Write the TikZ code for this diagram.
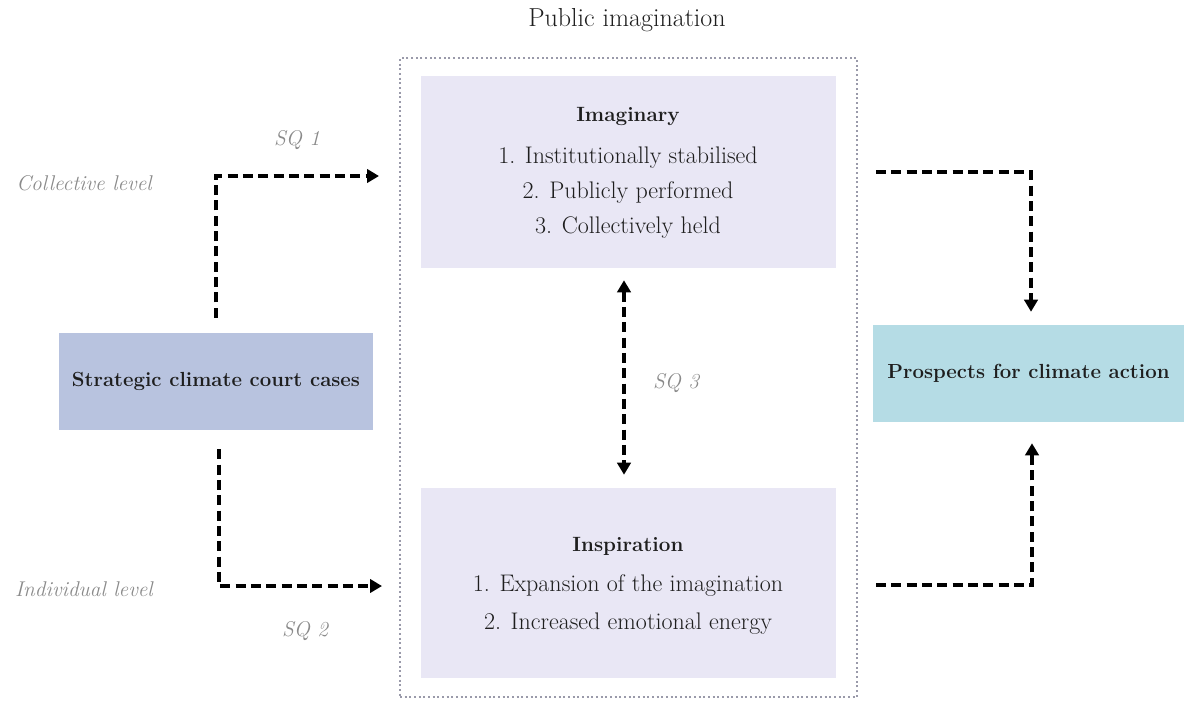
\documentclass[tikz,border=0pt]{standalone}
\usetikzlibrary{arrows.meta,calc}
\definecolor{lav}{HTML}{E9E7F5}
\definecolor{court}{HTML}{B8C3DF}
\definecolor{prosp}{HTML}{B5DCE5}
\definecolor{frame}{HTML}{9A9AAA}
\definecolor{lbl}{HTML}{8A8A8A}
\definecolor{ink}{HTML}{1E1E1E}
\tikzset{
  box/.style={fill=#1, draw=none, inner sep=0pt, align=center, text=ink, font=\fontsize{15.3}{19}\selectfont\bfseries},
  panel/.style={fill=lav, draw=none, inner sep=0pt},
  conn/.style={draw=black, line width=2.6pt, dash pattern=on 7.5pt off 4pt, -{Triangle[length=9pt,width=10pt]}},
  bconn/.style={draw=black, line width=2.6pt, dash pattern=on 7.5pt off 4pt, {Triangle[length=9pt,width=10pt]}-{Triangle[length=9pt,width=10pt]}},
  lvl/.style={text=lbl, font=\fontsize{16}{19}\selectfont\itshape},
  txt/.style={text=ink, font=\fontsize{18}{22}\selectfont},
  head/.style={text=ink, font=\fontsize{15.5}{19}\selectfont\bfseries},
}
\begin{document}
\begin{tikzpicture}[x=0.75pt,y=-0.75pt]
\useasboundingbox (0,0) rectangle (1184,700);
% frame
\node[draw=frame, line width=1.5pt, dotted, minimum width=457*0.75pt, minimum height=639*0.75pt, inner sep=0pt] (frame) at (628.5,377.5) {};
\node[txt, font=\fontsize{19.5}{23}\selectfont] (title) at (627,20) {Public imagination};
% panels
\node[panel, minimum width=415*0.75pt, minimum height=192*0.75pt] (imag) at (628.5,172) {};
\node[panel, minimum width=415*0.75pt, minimum height=190*0.75pt] (insp) at (628.5,583) {};
\node[head] (imagh) at (628,116) {Imaginary};
\node[txt] (i1) at (628,158) {1. Institutionally stabilised};
\node[txt] (i2) at (628,193) {2. Publicly performed};
\node[txt] (i3) at (628,228) {3. Collectively held};
\node[head] (insph) at (628,546) {Inspiration};
\node[txt] (j1) at (628,586) {1. Expansion of the imagination};
\node[txt] (j2) at (628,624) {2. Increased emotional energy};
% side boxes
\node[box=court, minimum width=314*0.75pt, minimum height=97*0.75pt] (court) at (216,381.5) {Strategic climate court cases};
\node[box=prosp, minimum width=311*0.75pt, minimum height=97*0.75pt] (prosp) at (1028.5,373.5) {Prospects for climate action};
% labels
\node[lvl] (coll) at (84,183) {Collective level};
\node[lvl] (indiv) at (84,589) {Individual level};
\node[lvl] (sq1) at (297,140) {SQ 1};
\node[lvl] (sq2) at (305,631) {SQ 2};
\node[lvl] (sq3) at (676,383) {SQ 3};
% connector coordinates
\coordinate (a1s) at ($(court.north)+(0,-15)$);
\coordinate (a1e) at ($(frame.west|-0,176)+(-20,0)$);
\coordinate (a2s) at ($(court.south)+(3,19)$);
\coordinate (a2e) at ($(frame.west|-0,586)+(-17,0)$);
\coordinate (a3s) at ($(imag.south)+(-4.5,12)$);
\coordinate (a3e) at ($(insp.north)+(-4.5,-13)$);
\coordinate (a4s) at ($(frame.east|-0,172)+(18,0)$);
\coordinate (a4e) at ($(prosp.north)+(2.5,-13)$);
\coordinate (a5s) at ($(frame.east|-0,585)+(18,0)$);
\coordinate (a5e) at ($(prosp.south)+(3.5,21)$);
\draw[conn] (a1s) |- (a1e);
\draw[conn] (a2s) |- (a2e);
\draw[bconn] (a3s) -- (a3e);
\draw[conn] (a4s) -| (a4e);
\draw[conn] (a5s) -| (a5e);
\end{tikzpicture}
\end{document}
